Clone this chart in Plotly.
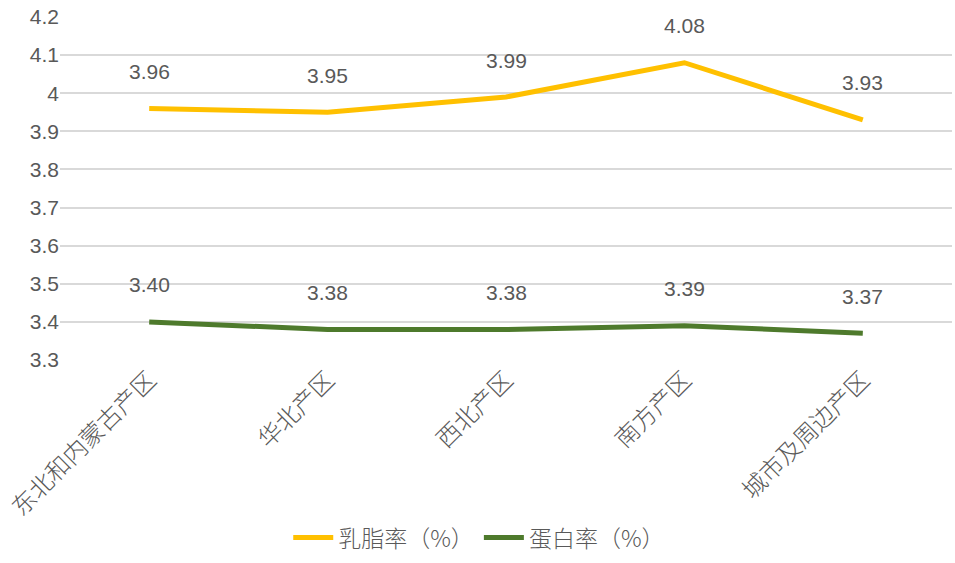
import plotly.graph_objects as go

regions = ["东北和内蒙古产区", "华北产区", "西北产区", "南方产区", "城市及周边产区"]
fat_rate = [3.96, 3.95, 3.99, 4.08, 3.93]
protein_rate = [3.40, 3.38, 3.38, 3.39, 3.37]
y_ticks = [3.3, 3.4, 3.5, 3.6, 3.7, 3.8, 3.9, 4.0, 4.1, 4.2]
y_tick_text = ["3.3", "3.4", "3.5", "3.6", "3.7", "3.8", "3.9", "4", "4.1", "4.2"]

FONT = "Liberation Sans, Noto Sans CJK SC, sans-serif"
CJK_FONT = "Noto Sans CJK SC, sans-serif"
GRAY = "#595959"

series = [
    ("乳脂率（%）", fat_rate, "#FFC000"),
    ("蛋白率（%）", protein_rate, "#4E7A2C"),
]

fig = go.Figure()
annotations = []
for name, vals, color in series:
    fig.add_trace(go.Scatter(
        x=regions, y=vals, mode="lines", name=name,
        line=dict(color=color, width=5),
    ))
    for r, v in zip(regions, vals):
        annotations.append(dict(
            x=r, y=v, xref="x", yref="y", text=f"{v:.2f}",
            showarrow=False, yshift=37,
            font=dict(family=FONT, size=21, color=GRAY),
        ))

fig.update_layout(
    width=955, height=563,
    margin=dict(l=60, r=3, t=17, b=203),
    paper_bgcolor="white", plot_bgcolor="white",
    font=dict(family=FONT, color=GRAY, size=19),
    annotations=annotations,
    showlegend=True,
    legend=dict(
        orientation="h", x=0.47, xanchor="center",
        yref="container", y=0.045, yanchor="middle",
        font=dict(family=CJK_FONT, size=23, color=GRAY, weight=300),
        itemwidth=40,
    ),
    xaxis=dict(
        range=[-0.5, 4.5], automargin=False,
        tickangle=-45, showgrid=False, showline=False, ticks="",
        tickfont=dict(family=CJK_FONT, size=24, color=GRAY, weight=300),
    ),
    yaxis=dict(
        range=[3.3, 4.2], tickvals=y_ticks, ticktext=y_tick_text,
        automargin=False,
        showgrid=True, gridcolor="#D9D9D9", gridwidth=2,
        zeroline=False, showline=False, ticks="",
        tickfont=dict(family=FONT, size=21, color=GRAY),
    ),
)

fig.write_html("out.html")
